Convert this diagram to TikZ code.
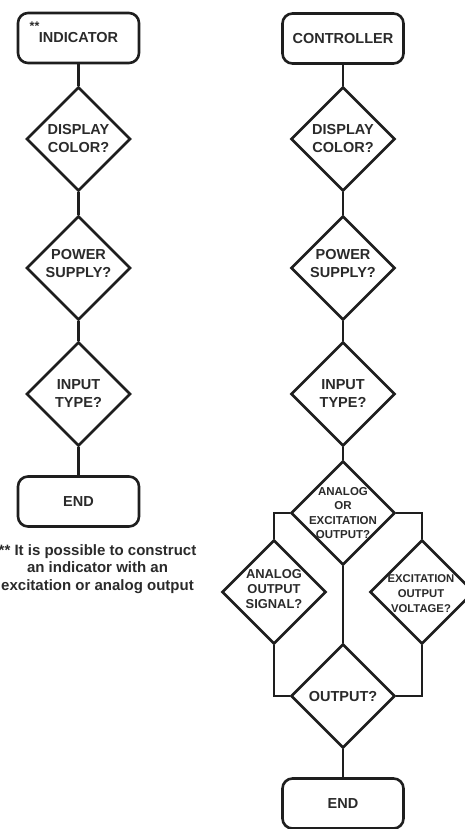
\documentclass[tikz,border=0pt]{standalone}
\usepackage{fontspec}
\setmainfont{Liberation Sans}
\usepackage{tikz}
\usetikzlibrary{shapes.geometric}

\definecolor{flowline}{HTML}{1E1E1E}
\definecolor{flowtext}{HTML}{2A2A2A}

\tikzset{
  termbox/.style={draw=flowline, line width=2.6pt, rounded corners=10pt, minimum width=121pt, minimum height=50pt, inner sep=0pt, text=flowtext, font=\fontsize{14.5}{18}\selectfont\bfseries},
  decision/.style={draw=flowline, line width=2.6pt, diamond, aspect=1, minimum width=104pt, minimum height=104pt, inner sep=0pt},
  qtext/.style={align=center, inner sep=0pt, text=flowtext, font=\fontsize{14.5}{18}\selectfont\bfseries},
  link/.style={draw=flowline, line width=2.6pt},
}

\begin{document}
\begin{tikzpicture}[x=1pt, y=-1pt]
  \useasboundingbox (0,0) rectangle (465,829);

  % Indicator column (left)
  \node[termbox] (ind) at (78.5,38) {INDICATOR};
  \node[anchor=base west, inner sep=0pt, text=flowtext, font=\fontsize{12.5}{15}\selectfont\bfseries] (stars) at (29.5,31) {**};
  \node[decision] (ldisp) at (78.5,139) {};
  \node[decision] (lpow) at (78.5,268) {};
  \node[decision] (linp) at (78.5,394) {};
  \node[termbox] (lend) at (78.5,501.5) {END};
  \node[qtext] (ldispq) at (78.5,139) {DISPLAY\\COLOR?};
  \node[qtext] (lpowq) at (78.5,264) {POWER\\SUPPLY?};
  \node[qtext] (linpq) at (78.5,394) {INPUT\\TYPE?};
  \node[qtext, font=\fontsize{15}{17.2}\selectfont\bfseries] (note) at (97.5,569)
    {** It is possible to construct\\an indicator with an\\excitation or analog output};
  \draw[link] (ind.south) -- (ldisp.north);
  \draw[link] (ldisp.south) -- (lpow.north);
  \draw[link] (lpow.south) -- (linp.north);
  \draw[link] (linp.south) -- (lend.north);

  % Controller column (right)
  \node[termbox] (ctl) at (343,38.5) {CONTROLLER};
  \node[decision] (rdisp) at (343,139) {};
  \node[decision] (rpow) at (343,268) {};
  \node[decision] (rinp) at (343,394) {};
  \node[decision] (sel) at (343,513) {};
  \node[decision] (asig) at (274,592) {};
  \node[decision] (exc) at (422,592) {};
  \node[decision] (outq) at (343,696) {};
  \node[termbox] (rend) at (343,803.5) {END};
  \node[qtext] (rdispq) at (343,139) {DISPLAY\\COLOR?};
  \node[qtext] (rpowq) at (343,264) {POWER\\SUPPLY?};
  \node[qtext] (rinpq) at (343,394) {INPUT\\TYPE?};
  \node[qtext, font=\fontsize{11.5}{14.3}\selectfont\bfseries] (selq) at (343,513) {ANALOG\\OR\\EXCITATION\\OUTPUT?};
  \node[qtext, font=\fontsize{12.9}{15.3}\selectfont\bfseries] (asigq) at (274,589) {ANALOG\\OUTPUT\\SIGNAL?};
  \node[qtext, font=\fontsize{11.3}{15}\selectfont\bfseries] (excq) at (421,594) {EXCITATION\\OUTPUT\\VOLTAGE?};
  \node[qtext] (outqq) at (343,696) {OUTPUT?};
  \draw[link] (ctl.south) -- (rdisp.north);
  \draw[link] (rdisp.south) -- (rpow.north);
  \draw[link] (rpow.south) -- (rinp.north);
  \draw[link] (rinp.south) -- (sel.north);
  \draw[link] (sel.west) -| (asig.north);
  \draw[link] (sel.east) -| (exc.north);
  \draw[link] (sel.south) -- (outq.north);
  \draw[link] (asig.south) |- (outq.west);
  \draw[link] (exc.south) |- (outq.east);
  \draw[link] (outq.south) -- (rend.north);
\end{tikzpicture}
\end{document}
